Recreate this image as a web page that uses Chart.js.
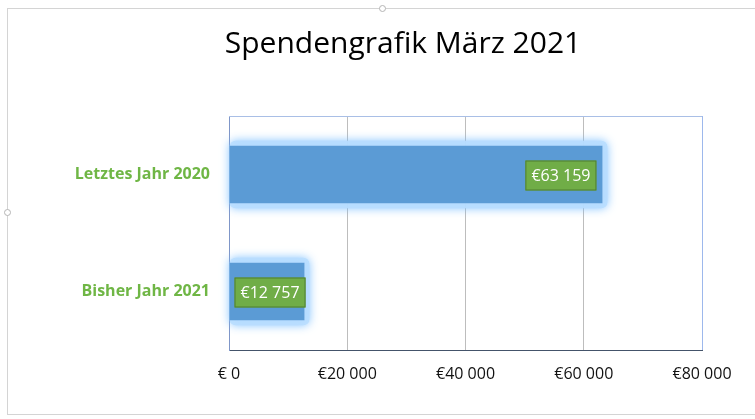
<!DOCTYPE html>
<html>
<head>
<meta charset="utf-8">
<script src="https://cdn.jsdelivr.net/npm/chart.js@4.4.0/dist/chart.umd.min.js"></script>
<style>
  body { margin: 0; background: #fff; }
  #wrap { position: relative; width: 755px; height: 419px; }
  #frame { position: absolute; left: 7px; top: 8px; width: 760px; height: 407px; border: 1px solid #d4d4d4; box-sizing: border-box; }
  .handle { position: absolute; width: 7px; height: 7px; border: 1px solid #b5b5b5; border-radius: 50%; background: #fff; box-sizing: border-box; }
  canvas { position: absolute; left: 0; top: 0; }
</style>
</head>
<body>
<div id="wrap">
  <div id="frame"></div>
  <div class="handle" style="left:379px; top:5px;"></div>
  <div class="handle" style="left:4px; top:209px;"></div>
  <canvas id="barChart" width="755" height="419"></canvas>
</div>
<script>
var categories = ['Letztes Jahr 2020', 'Bisher Jahr 2021'];
var donations = [63159, 12757];
var xTickLabels = ['€ 0', '€20 000', '€40 000', '€60 000', '€80 000'];

function euro(v) {
    return '€' + String(v).replace(/\B(?=(\d{3})+(?!\d))/g, ' ');
}

// title sits a bit right of the canvas centre, like in Excel
var titleShift = {
    id: 'titleShift',
    afterLayout: function(chart) {
        if (chart.titleBlock) chart.titleBlock.left = 104;
    }
};

// soft blue glow round the bars (drawn under them)
var glowPlugin = {
    id: 'glow',
    beforeDatasetsDraw: function(chart) {
        var ctx = chart.ctx;
        var meta = chart.getDatasetMeta(0);
        ctx.save();
        meta.data.forEach(function(bar) {
            var h = bar.height;
            var x0 = bar.base, x1 = bar.x;
            var y0 = bar.y - h / 2;
            ctx.shadowColor = 'rgba(120, 190, 255, 1)';
            ctx.shadowBlur = 10;
            ctx.fillStyle = 'rgba(185, 222, 255, 0.9)';
            ctx.beginPath();
            ctx.roundRect(x0, y0 - 5, x1 - x0 + 5, h + 10, 6);
            ctx.fill();
        });
        ctx.restore();
    }
};

// top line of the plot area
var frameTop = {
    id: 'frameTop',
    beforeDatasetsDraw: function(chart) {
        var a = chart.chartArea, ctx = chart.ctx;
        ctx.save();
        ctx.strokeStyle = '#a9bfe6';
        ctx.lineWidth = 1;
        ctx.beginPath();
        ctx.moveTo(a.left, a.top + 0.5);
        ctx.lineTo(a.right, a.top + 0.5);
        ctx.stroke();
        ctx.restore();
    }
};

// green value boxes at the end of each bar
var valueBoxes = {
    id: 'valueBoxes',
    afterDatasetsDraw: function(chart) {
        var ctx = chart.ctx;
        var meta = chart.getDatasetMeta(0);
        ctx.save();
        ctx.font = '16px "Open Sans"';
        ctx.textAlign = 'center';
        ctx.textBaseline = 'middle';
        meta.data.forEach(function(bar, i) {
            var txt = euro(donations[i]);
            var w = ctx.measureText(txt).width + 12;
            var h = 30;
            var right = Math.max(bar.x - 6, bar.base + 5 + w);
            var left = right - w;
            var top = bar.y - h / 2 + 1;
            ctx.fillStyle = '#70ad47';
            ctx.fillRect(left, top, w, h);
            ctx.strokeStyle = '#4f7f31';
            ctx.lineWidth = 1;
            ctx.strokeRect(left + 0.5, top + 0.5, w - 1, h - 1);
            ctx.fillStyle = '#ffffff';
            ctx.fillText(txt, left + w / 2, top + h / 2 + 1);
        });
        ctx.restore();
    }
};

var ctxBar = document.getElementById('barChart').getContext('2d');
var barChart = new Chart(ctxBar, {
    type: 'bar',
    data: {
        labels: categories,
        datasets: [{
            data: donations,
            backgroundColor: '#5b9bd5',
            borderWidth: 0,
            categoryPercentage: 1,
            barPercentage: 0.49
        }]
    },
    options: {
        indexAxis: 'y',
        responsive: false,
        animation: false,
        layout: { padding: { left: 0, right: 53, top: 0, bottom: 0 } },
        plugins: {
            legend: { display: false },
            tooltip: { enabled: false },
            title: {
                display: true,
                text: 'Spendengrafik März 2021',
                color: '#000000',
                font: { family: 'Open Sans', size: 30, weight: 'normal' },
                padding: { top: 26, bottom: 54 }
            }
        },
        scales: {
            x: {
                min: 0,
                max: 80000,
                afterBuildTicks: function(scale) {
                    scale.ticks = xTickLabels.map(function(t, i) { return { value: i * 20000 }; });
                },
                afterFit: function(scale) { scale.height = 69; },
                ticks: {
                    padding: 15,
                    color: '#111111',
                    font: { family: 'Open Sans', size: 16 },
                    callback: function(value, index) { return xTickLabels[index]; }
                },
                grid: {
                    drawTicks: false,
                    color: function(c) {
                        if (c.index === 0) return '#7f96c8';
                        if (c.index === xTickLabels.length - 1) return '#9db8ec';
                        return '#bdbdbd';
                    }
                },
                border: { color: '#44546a', width: 1 }
            },
            y: {
                afterFit: function(scale) { scale.width = 229; },
                ticks: {
                    padding: 19,
                    color: '#6fb645',
                    font: { family: 'Open Sans', size: 16, weight: 'bold' }
                },
                grid: { display: false, drawTicks: false },
                border: { color: '#7f96c8', width: 1 }
            }
        }
    },
    plugins: [titleShift, frameTop, glowPlugin, valueBoxes]
});
</script>
</body>
</html>
